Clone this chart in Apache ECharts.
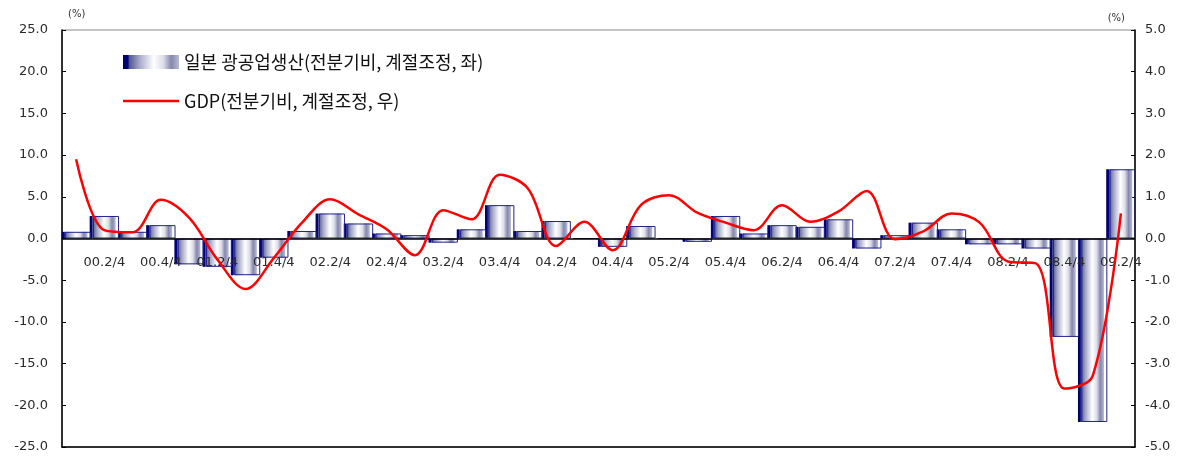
<!DOCTYPE html>
<html>
<head>
<meta charset="utf-8">
<script src="https://cdn.jsdelivr.net/npm/echarts@6/dist/echarts.min.js"></script>
<style>
html,body{margin:0;padding:0;background:#fff;}
#c{width:1186px;height:457px;}
</style>
</head>
<body>
<div id="c"></div>
<script>
const categories = ['00.1/4','00.2/4','00.3/4','00.4/4','01.1/4','01.2/4','01.3/4','01.4/4',
  '02.1/4','02.2/4','02.3/4','02.4/4','03.1/4','03.2/4','03.3/4','03.4/4',
  '04.1/4','04.2/4','04.3/4','04.4/4','05.1/4','05.2/4','05.3/4','05.4/4',
  '06.1/4','06.2/4','06.3/4','06.4/4','07.1/4','07.2/4','07.3/4','07.4/4',
  '08.1/4','08.2/4','08.3/4','08.4/4','09.1/4','09.2/4'];
const industrialProduction = [0.8, 2.7, 0.8, 1.6, -3.1, -3.4, -4.4, -2.3,
  0.9, 3.0, 1.8, 0.6, 0.4, -0.5, 1.1, 4.0,
  0.9, 2.1, 0.0, -1.0, 1.5, 0.0, -0.4, 2.7,
  0.6, 1.6, 1.4, 2.3, -1.2, 0.4, 1.9, 1.1,
  -0.7, -0.7, -1.2, -11.8, -22.0, 8.3];
const gdp = [1.9, 0.2, 0.15, 0.93, 0.5, -0.5, -1.21, -0.47,
  0.38, 0.94, 0.58, 0.22, -0.4, 0.68, 0.46, 1.53,
  1.2, -0.18, 0.4, -0.28, 0.8, 1.04, 0.62, 0.38,
  0.2, 0.8, 0.4, 0.65, 1.14, -0.02, 0.17, 0.6,
  0.38, -0.55, -0.6, -3.6, -3.3, 0.6];
const leftTicks = {min: -25, max: 25, interval: 5};
const rightTicks = {min: -5, max: 5, interval: 1};
const barName = '일본 광공업생산(전분기비, 계절조정, 좌)';
const lineName = 'GDP(전분기비, 계절조정, 우)';

const chart = echarts.init(document.getElementById('c'), null, {renderer: 'canvas'});
const grad = new echarts.graphic.LinearGradient(0, 0, 1, 0, [
  {offset: 0, color: '#00006e'},
  {offset: 0.09, color: '#000080'},
  {offset: 0.11, color: '#50558f'},
  {offset: 0.3, color: '#a9abca'},
  {offset: 0.55, color: '#ffffff'},
  {offset: 0.72, color: '#dcdde8'},
  {offset: 0.86, color: '#8587ad'},
  {offset: 1, color: '#b9bbd3'}
]);
const axisFont = {fontFamily: 'DejaVu Sans', fontSize: 13, color: '#2a2a2a'};
const legendText = {fontFamily: 'Noto Sans CJK KR', fontSize: 18, color: '#111'};
const option = {
  animation: false,
  backgroundColor: '#fff',
  grid: {left: 62, right: 51, top: 30, bottom: 10, show: true, borderColor: '#888', borderWidth: 1,
         outerBoundsMode: 'none', containLabel: false},
  legend: [
    {data: [{name: barName, icon: 'rect'}], left: 118, top: 48, itemWidth: 56, itemHeight: 14, itemGap: 6,
     textStyle: legendText},
    {data: [{name: lineName, icon: 'rect'}], left: 118, top: 87, itemWidth: 56, itemHeight: 2.5,
     textStyle: legendText}
  ],
  xAxis: [
    {type: 'category', data: categories, position: 'bottom',
     axisLine: {onZero: false, lineStyle: {color: '#000', width: 1.5}},
     axisTick: {show: false},
     axisLabel: {interval: (i) => i % 2 === 1, margin: -191, ...axisFont},
     z: 5}
  ],
  yAxis: [
    {type: 'value', ...leftTicks, position: 'left', name: '(%)',
     nameGap: 11, nameTextStyle: {fontFamily: 'DejaVu Sans', fontSize: 10, color: '#333', align: 'left', padding: [0, 0, 0, 6]},
     axisLine: {show: true, onZero: false, lineStyle: {color: '#000', width: 1.5}},
     axisTick: {show: true, inside: true, length: 4, lineStyle: {color: '#000'}},
     splitLine: {show: false},
     axisLabel: {margin: 14, formatter: (v) => v.toFixed(1), ...axisFont}},
    {type: 'value', ...rightTicks, position: 'right', name: '(%)',
     nameGap: 7, nameTextStyle: {fontFamily: 'DejaVu Sans', fontSize: 10, color: '#333', align: 'right', padding: [0, 10, 0, 0]},
     axisLine: {show: true, onZero: false, lineStyle: {color: '#000', width: 1.5}},
     axisTick: {show: true, inside: true, length: 4, lineStyle: {color: '#000'}},
     splitLine: {show: false},
     axisLabel: {margin: 10, formatter: (v) => v.toFixed(1), ...axisFont}}
  ],
  series: [
    {name: barName, type: 'bar', data: industrialProduction, xAxisIndex: 0, yAxisIndex: 0,
     barWidth: 26, barGap: '-87%', itemStyle: {color: grad}, z: 2},
    {name: 'outline', type: 'bar', data: industrialProduction, xAxisIndex: 0, yAxisIndex: 0,
     barWidth: 26, itemStyle: {color: 'rgba(0,0,0,0)', borderColor: '#23238f', borderWidth: 1}, z: 3,
     markLine: {silent: true, symbol: 'none', label: {show: false},
       lineStyle: {color: '#000', type: 'solid', width: 1.5}, data: [{yAxis: 0}], z: 4}},
    {name: lineName, type: 'line', data: gdp, xAxisIndex: 0, yAxisIndex: 1,
     smooth: 0.35, symbol: 'none', lineStyle: {color: '#ff0000', width: 2.5}, itemStyle: {color: '#ff0000'}, z: 6}
  ]
};
chart.setOption(option);
</script>
</body>
</html>
